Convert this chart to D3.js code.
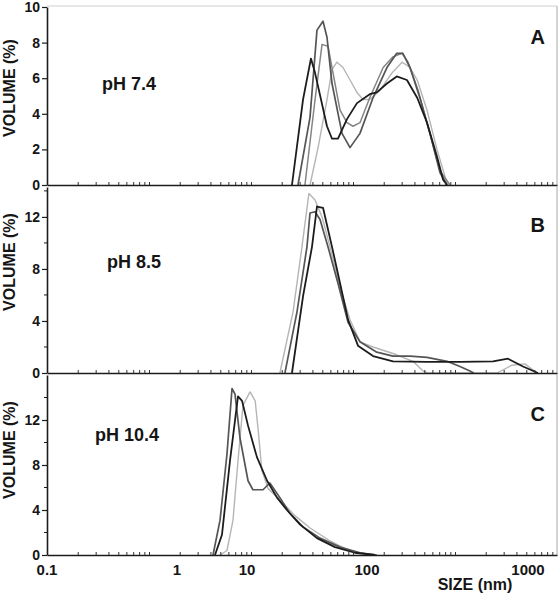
<!DOCTYPE html>
<html><head><meta charset="utf-8">
<script src="https://cdn.jsdelivr.net/npm/d3@7"></script>
<style>
body{margin:0;background:#fff}
svg{display:block}
text{font-family:"Liberation Sans",Arial,Helvetica,sans-serif;font-weight:bold;fill:#151515}
</style>
</head><body>
<svg id="chart" width="559" height="595"></svg>
<script>
// ---------- data ----------
const xTickValues = [0.1, 1, 10, 100, 1000];
const xTickLabels = ["0.1", "1", "10", "100", "1000"];
const panelLetters = ["A", "B", "C"];
const panelPH = ["pH 7.4", "pH 8.5", "pH 10.4"];
const yMaxes = [10, 14.3, 16];
const yMajorTicks = [[0, 2, 4, 6, 8, 10], [0, 4, 8, 12], [0, 4, 8, 12]];
const yMinorTicks = [[], [2, 6, 10, 14], [2, 6, 10, 14]];

// panel A (pH 7.4): [size nm, volume %]
const A_black = [[23.7,0],[29.3,4.8],[34.1,7.1],[36.9,6.3],[46.4,3.3],[51.1,2.6],[57.3,2.6],[68.1,3.7],[82.5,4.6],[104,5.1],[115,5.2],[133,5.7],[153,6.1],[177,5.9],[205,4.9],[236,3.5],[272,1.6],[297,0.3],[314,0]];
const A_dark  = [[26.6,0],[33.5,3.8],[38.3,8.7],[43,9.2],[46.4,8.3],[51.1,5.7],[61.9,2.9],[72.2,2.1],[87.4,2.9],[109,4.9],[133,6.6],[153,7.4],[167,7.4],[185,6.6],[213,4.9],[246,2.9],[284,0.7],[314,0]];
const A_mid   = [[30.4,0],[36.9,4.8],[42.2,7.9],[47.3,7.8],[51.1,6.6],[59.6,4.2],[68.1,3.5],[76.4,3.3],[87.4,3.5],[104,4.9],[126,6.6],[145,7.2],[165,7.4],[180,6.9],[208,5.3],[239,3.3],[284,0.8],[328,0]];
const A_light = [[33.5,0],[39.1,2.1],[46.4,4.8],[51.1,6.5],[56.2,6.9],[63.1,6.6],[72.2,5.9],[82.5,5.2],[92.6,4.8],[104,4.8],[120,5.3],[143,6.3],[165,6.9],[185,6.6],[205,5.9],[236,4.2],[272,2.0],[314,0.1],[320,0]];

// panel B (pH 8.5)
const B_black = [[23.7,0],[29.3,5.9],[34.8,9.7],[38.3,12.8],[43,12.7],[51.1,9.7],[59.6,6.9],[69.5,4.1],[84.1,2.1],[109,1.3],[145,0.9],[236,0.85],[378,0.85],[607,0.9],[751,1.1],[931,0.5],[1153,0]];
const B_dark  = [[20.7,0],[26.1,4.7],[31.6,9.7],[33.5,12.3],[36.9,12.4],[40.6,11.8],[47.3,9.7],[57.3,6.9],[69.5,3.9],[87.4,2.4],[115,1.6],[145,1.3],[185,1.3],[236,1.2],[314,0.9],[378,0.5],[436,0.15],[460,0]];
const B_light = [[18.8,0],[24.2,4.7],[28.7,9.7],[32.8,13.8],[36.9,13.3],[42.2,12.0],[49.2,9.7],[59.6,6.6],[72.2,4.1],[87.4,2.4],[109,2.0],[145,1.5],[193,0.9],[223,0.15],[240,0],[641,0],[794,0.6],[957,0.7],[1138,0]];

// panel C (pH 10.4)
const C_dark  = [[3.27,0],[4.12,3.1],[5.18,9.0],[6.11,14.8],[6.74,14.3],[7.94,10.4],[10.2,6.6],[11.2,5.8],[13.6,5.8],[15.5,6.4],[18.8,5.1],[22.8,3.7],[29.3,2.5],[40.6,1.5],[59.6,0.7],[87.4,0.2],[115,0]];
const C_black = [[3.49,0],[4.39,1.8],[5.72,8.4],[7.44,14.1],[8.5,13.7],[10.2,11.5],[12.1,8.7],[14.7,6.6],[17.8,5.1],[21.5,4.0],[27.7,2.7],[38.3,1.5],[54.1,0.7],[79.4,0.2],[112,0]];
const C_light = [[4.12,0],[5.18,0.4],[6.31,3.1],[7.44,8.4],[8.76,13.3],[10.6,14.5],[11.7,13.7],[12.4,11.1],[13.3,7.5],[15.0,5.9],[18.8,4.9],[25.1,3.5],[33.5,2.4],[50.1,1.2],[72.2,0.35],[104,0]];

const panelSeries = [
  [{k:"light", d:A_light},{k:"mid", d:A_mid},{k:"dark", d:A_dark},{k:"black", d:A_black}],
  [{k:"light", d:B_light},{k:"dark", d:B_dark},{k:"black", d:B_black}],
  [{k:"light", d:C_light},{k:"dark", d:C_dark},{k:"black", d:C_black}]
];

// ---------- layout / style ----------
const left = 47, right = 557;
const tops = [7, 187, 375], bottoms = [185, 373, 555];
const colors = {black:"#1c1c1c", dark:"#555555", mid:"#858585", light:"#b5b5b5"};
const widths = {black:1.8, dark:1.7, mid:1.5, light:1.4};

const svg = d3.select("#chart");

// x: log axis whose labelled decades sit where the original figure put them
const x = d3.scaleLinear().domain([-1, 0, 1, 2, 3, 3.18]).range([47, 177, 247, 367, 528, 557]);
const xs = v => x(Math.log10(v));
// uniform log scale used for the minor tick marks along each baseline
const tickScale = d3.scaleLog().domain([0.1, 10000]).range([left, right]);
const minorX = [];
[0.1, 1, 10, 100, 1000].forEach(dec => { for (let k = 1; k <= 9; k++) minorX.push(dec * k); });

panelSeries.forEach((series, i) => {
  const y = d3.scaleLinear().domain([0, yMaxes[i]]).range([bottoms[i], tops[i]]);
  const g = svg.append("g");

  if (i === 0) g.append("line").attr("x1", left).attr("x2", right).attr("y1", tops[i] - 1).attr("y2", tops[i] - 1)
    .attr("stroke", "#d0d0d0").attr("stroke-width", 1.2);
  g.append("line").attr("x1", right).attr("x2", right).attr("y1", tops[i] - 1).attr("y2", bottoms[i])
    .attr("stroke", "#b8b8b8").attr("stroke-width", 1.2);

  const line = d3.line().x(d => xs(d[0])).y(d => y(d[1]));
  series.forEach(s => {
    g.append("path").datum(s.d).attr("d", line).attr("fill", "none")
      .attr("stroke", colors[s.k]).attr("stroke-width", widths[s.k]).attr("stroke-linejoin", "round");
  });

  const xa = g.append("g").attr("transform", `translate(0,${bottoms[i]})`)
    .call(d3.axisBottom(tickScale).tickValues(minorX).tickSize(-3).tickSizeOuter(0).tickFormat(""));
  xa.select(".domain").attr("stroke", "#1c1c1c").attr("stroke-width", 1.6);
  xa.selectAll(".tick line").attr("stroke", "#333").attr("stroke-width", 1);

  const ya = g.append("g").attr("transform", `translate(${left},0)`)
    .call(d3.axisLeft(y).tickValues(yMajorTicks[i]).tickSize(5).tickSizeOuter(0).tickPadding(2).tickFormat(d3.format("d")));
  ya.select(".domain").attr("stroke", "#1c1c1c").attr("stroke-width", 1.6);
  ya.selectAll(".tick line").attr("stroke", "#1c1c1c").attr("stroke-width", 1.2);
  ya.selectAll(".tick text").style("font-size", "14px").style("font-weight", "bold")
    .style("font-family", "'Liberation Sans', Arial, sans-serif").attr("fill", "#151515");
  g.append("g").attr("transform", `translate(${left},0)`)
    .selectAll("line").data(yMinorTicks[i]).join("line")
    .attr("x1", -3).attr("x2", 0).attr("y1", d => y(d)).attr("y2", d => y(d))
    .attr("stroke", "#1c1c1c").attr("stroke-width", 1);

  const cy = [88, 262, 450][i];
  g.append("text").attr("transform", `translate(15,${cy}) rotate(-90)`)
    .attr("text-anchor", "middle").style("font-size", "16px").text("VOLUME (%)");

  const phPos = [[102, 90], [107, 268], [95, 441]][i];
  g.append("text").attr("x", phPos[0]).attr("y", phPos[1]).style("font-size", "18px").text(panelPH[i]);
  g.append("text").attr("x", 545).attr("y", [44, 232, 421][i]).attr("text-anchor", "end")
    .style("font-size", "20px").text(panelLetters[i]);
});

svg.append("g").selectAll("text").data(xTickValues).join("text")
  .attr("x", d => xs(d)).attr("y", 575).attr("text-anchor", "middle")
  .style("font-size", "15px").text((d, i) => xTickLabels[i]);
svg.append("text").attr("x", 475).attr("y", 590).attr("text-anchor", "middle")
  .style("font-size", "16px").text("SIZE (nm)");
</script>
</body></html>
